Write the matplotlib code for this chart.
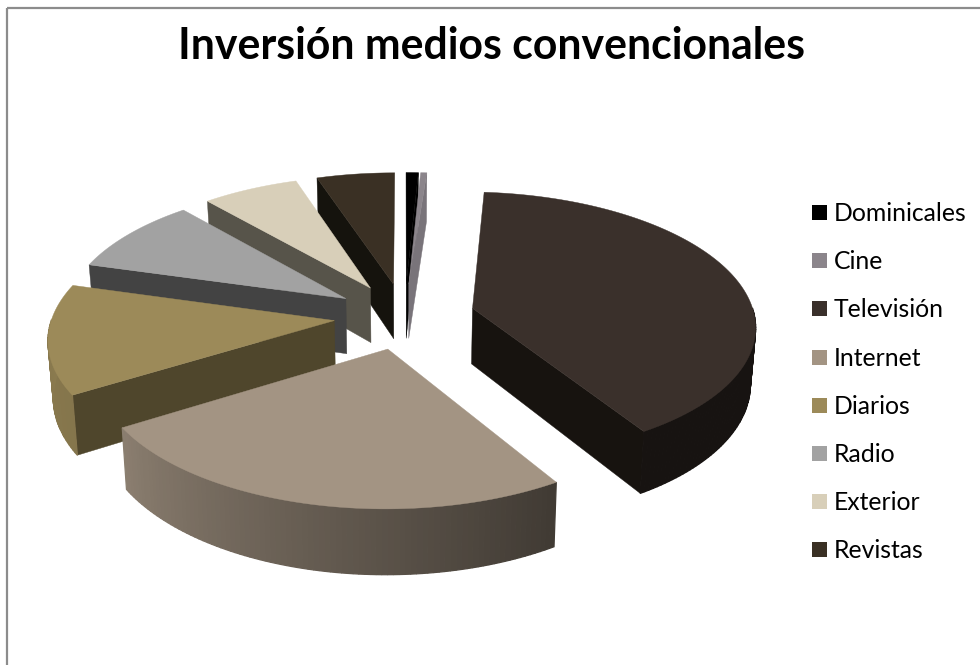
import numpy as np
import matplotlib
matplotlib.use('Agg')
import matplotlib.pyplot as plt
from matplotlib.patches import Polygon, Rectangle

categories = ['Dominicales', 'Cine', 'Televisión', 'Internet',
              'Diarios', 'Radio', 'Exterior', 'Revistas']
values = [0.8, 0.4, 40.0, 25.0, 13.2, 9.2, 6.3, 5.1]
colors = ['#000000', '#8b858b', '#3a302b', '#a39483',
          '#9c8a59', '#a2a2a2', '#d8cfb9', '#3a3024']
wall_colors = ['#000000', '#79747a', '#17130f', '#403a33',
               '#4f462c', '#434343', '#57544a', '#15130d']
title = 'Inversión medios convencionales'

# pie projection, in pixels
CX, CY = 404.5, 316
RX, RY = 282, 132
PERSP = 0.12
EXPLODE = 0.25
HEIGHT = 56
BOTTOM_SCALE = 0.985


def project(x, y, bottom=False):
    s = 1 / (1 + PERSP * y)
    px = RX * x * s
    py = CY - RY * y * s
    if bottom:
        return CX + px * BOTTOM_SCALE, py + HEIGHT * s
    return CX + px, py


def rim_shade(angle):
    # side of the pie gets darker towards the right
    return np.interp(angle, [0, 150, 238, 285, 360], [0.4, 0.4, 0.85, 0.9, 0.9])


def darken(color, f):
    return tuple(c * f for c in matplotlib.colors.to_rgb(color))


fig = plt.figure(figsize=(9.8, 6.65), dpi=100)
ax = fig.add_axes([0, 0, 1, 1])
ax.set_xlim(0, 980)
ax.set_ylim(665, 0)
ax.axis('off')

ax.add_patch(Rectangle((7, 8), 1000, 700, fill=False, ec='#8c8c8c', lw=1.6))

shares = np.array(values) / sum(values) * 360
ends = np.cumsum(shares)
starts = ends - shares
mids = (starts + ends) / 2

# back slices first
for i in np.argsort(-np.cos(np.radians(mids))):
    a0, a1 = starts[i], ends[i]
    ox = EXPLODE * np.sin(np.radians(mids[i]))
    oy = EXPLODE * np.cos(np.radians(mids[i]))
    angles = np.linspace(a0, a1, max(int(a1 - a0), 4))
    xs = ox + np.sin(np.radians(angles))
    ys = oy + np.cos(np.radians(angles))

    # radial walls that face the viewer
    for ang, visible in ((a0, np.sin(np.radians(a0)) < 0), (a1, np.sin(np.radians(a1)) > 0)):
        if not visible:
            continue
        ex = ox + np.sin(np.radians(ang))
        ey = oy + np.cos(np.radians(ang))
        wall = [project(ox, oy), project(ex, ey), project(ex, ey, True), project(ox, oy, True)]
        ax.add_patch(Polygon(wall, closed=True, fc=wall_colors[i], ec=wall_colors[i], lw=0.3))

    # outer rim in thin strips for the shading, front half only
    for j in range(len(angles) - 1):
        mid_ang = (angles[j] + angles[j + 1]) / 2
        if np.cos(np.radians(mid_ang)) > 0.0:
            continue
        strip = [project(xs[j], ys[j]), project(xs[j + 1], ys[j + 1]),
                 project(xs[j + 1], ys[j + 1], True), project(xs[j], ys[j], True)]
        c = darken(colors[i], rim_shade(mid_ang))
        ax.add_patch(Polygon(strip, closed=True, fc=c, ec=c, lw=0.9))

    top = [project(ox, oy)] + [project(x, y) for x, y in zip(xs, ys)]
    ax.add_patch(Polygon(top, closed=True, fc=colors[i], ec=colors[i], lw=0.3))

ax.text(491.5, 59, title, ha='center', va='baseline', fontsize=30.8, fontweight='bold',
        family='Lato', color='black')

for i, name in enumerate(categories):
    y = 212.5 + 48.2 * i
    ax.add_patch(Rectangle((812, y - 7.5), 15, 15, fc=colors[i], ec='none'))
    ax.text(834, y + 8.5, name, ha='left', va='baseline', fontsize=17.8, family='Lato', color='black')

plt.savefig('out.png', dpi=100)
